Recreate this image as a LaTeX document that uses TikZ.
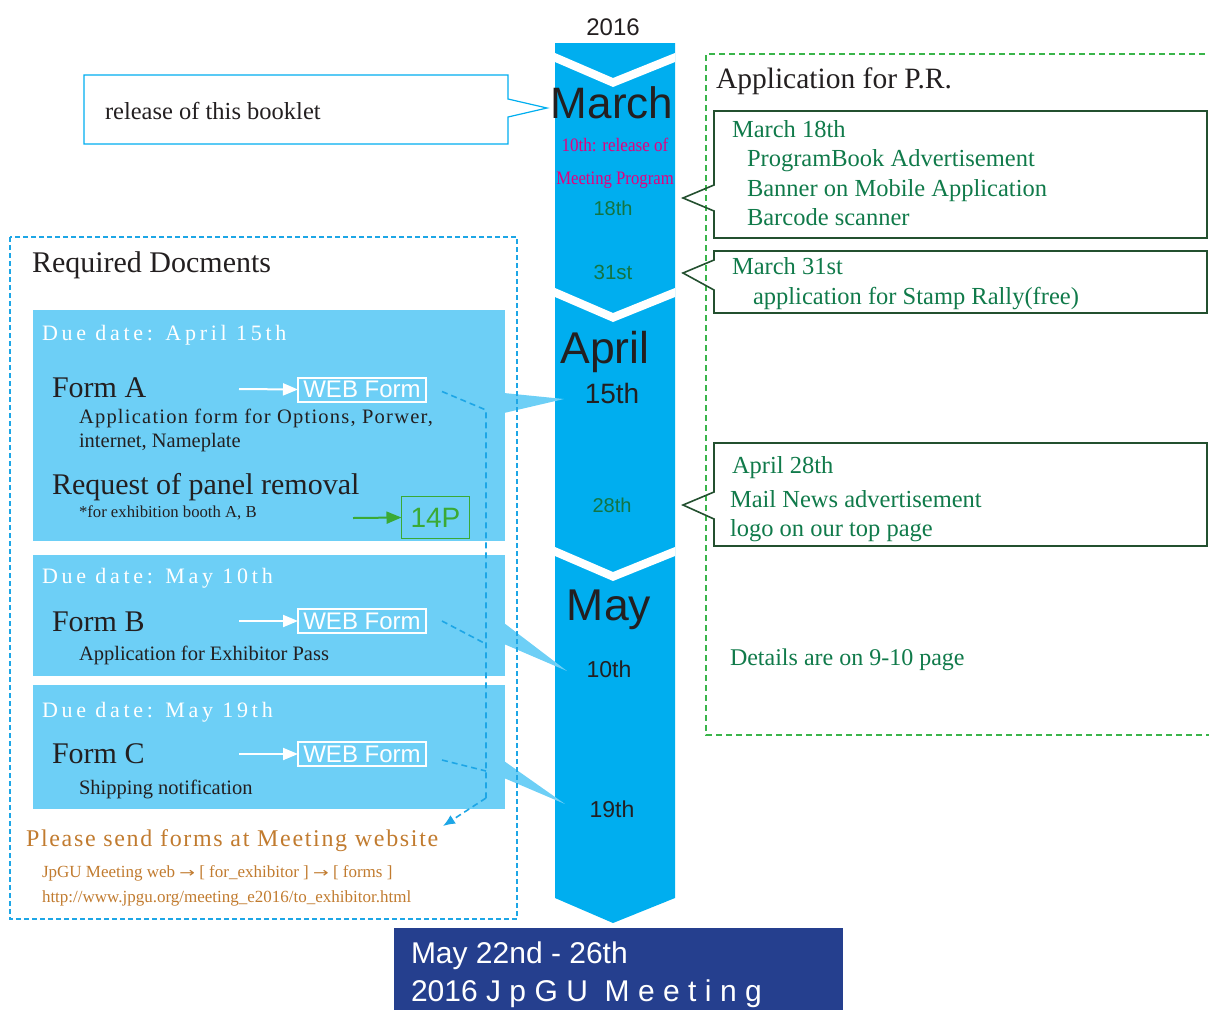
\documentclass[tikz,border=0pt]{standalone}
\usepackage{fontspec}
\setmainfont{Liberation Serif}
\setsansfont{Liberation Sans}
\newfontfamily\arrowfont{DejaVu Sans}
\usetikzlibrary{arrows.meta}
\definecolor{band}{HTML}{00AEEF}
\definecolor{panel}{HTML}{6DCFF6}
\definecolor{dashblue}{HTML}{1DA6E6}
\definecolor{dashgreen}{HTML}{39B54A}
\definecolor{boxgreen}{HTML}{23502F}
\definecolor{txtgreen}{HTML}{107A4A}
\definecolor{tlgreen}{HTML}{137443}
\definecolor{okgreen}{HTML}{3AAA35}
\definecolor{magent}{HTML}{E4007F}
\definecolor{orng}{HTML}{C17B2F}
\definecolor{navy}{HTML}{253F8E}
\definecolor{ink}{HTML}{231F20}
\newcommand\fsz[1]{\fontsize{#1}{#1}\selectfont}
\newcommand\rarr{{\arrowfont\scalebox{1.1}[0.8]{→}}}
\begin{document}
\begin{tikzpicture}[x=1pt,y=-1pt,inner sep=0pt,outer sep=0pt,
  txt/.style={anchor=base west,text=ink},
  tl/.style={anchor=base,font=\sffamily},
  gtxt/.style={anchor=base west,text=txtgreen,font=\fsz{24.5}},
  desc/.style={anchor=base west,text=ink,font=\fsz{20.5}},
  due/.style={anchor=base west,text=white,font=\fsz{22}\addfontfeature{LetterSpace=17}},
  formname/.style={anchor=base west,text=ink,font=\fsz{30}},
  webform/.style={draw=white,line width=2pt,text=white,font=\sffamily\fsz{24},minimum width=128pt,minimum height=24pt},
  whitearrow/.style={draw=white,line width=2pt,-{Triangle[length=15pt,width=12pt]}},
  conn/.style={draw=dashblue,line width=1.6pt,dash pattern=on 6pt off 4pt},
  callout/.style={draw=boxgreen,line width=1.6pt,line join=miter}]
\useasboundingbox (0,0) rectangle (1209,1010);

% timeline band
\fill[band] (555,43) -- (675,43) -- (675,898) -- (613,923) -- (555,898) -- cycle;
\foreach \a/\b in {53/78,288/313,547/572}{
  \fill[white] (555,\a) -- (613,\b) -- (675,\a) -- (675,\a+9) -- (613,\b+9) -- (555,\a+9) -- cycle;}

% panels
\fill[panel] (33,310) rectangle (505,541);
\fill[panel] (33,555) rectangle (505,676);
\fill[panel] (33,685) rectangle (505,809);
\fill[panel] (504,393) -- (564,399) -- (504,413) -- cycle;
\fill[panel] (504,623) -- (567,671) -- (504,644) -- cycle;
\fill[panel] (504,761) -- (565,804) -- (504,778) -- cycle;

% left dashed frame
\draw[draw=dashblue,line width=1.5pt,dash pattern=on 5pt off 3pt] (10,237) rectangle (517,919);

% release callout
\draw[draw=band,line width=1.2pt] (84,75) -- (508,75) -- (508,99) -- (547,108) -- (508,117) -- (508,144) -- (84,144) -- cycle;
\node[txt,font=\fsz{24.5}] (rel) at (105,119) {release of this booklet};

% right dashed frame
\draw[draw=dashgreen,line width=1.5pt,dash pattern=on 6pt off 4pt] (1215,54) -- (706,54) -- (706,735) -- (1215,735);
\node[txt,font=\fsz{29.5}] (apppr) at (716,88) {Application for P.R.};

% right callouts
\draw[callout] (714,111) -- (1207,111) -- (1207,238) -- (714,238) -- (714,211) -- (683,198) -- (714,185) -- cycle;
\draw[callout] (714,251) -- (1207,251) -- (1207,313) -- (714,313) -- (714,290) -- (683,273) -- (714,260) -- cycle;
\draw[callout] (714,443) -- (1207,443) -- (1207,546) -- (714,546) -- (714,519) -- (683,505) -- (714,492) -- cycle;
\node[gtxt] (m18) at (732,137) {March 18th};
\node[gtxt] (pb) at (747,166) {ProgramBook Advertisement};
\node[gtxt] (bn) at (747,196) {Banner on Mobile Application};
\node[gtxt] (bc) at (747,225) {Barcode scanner};
\node[gtxt] (m31) at (732,274) {March 31st};
\node[gtxt] (sr) at (753,304) {application for Stamp Rally(free)};
\node[gtxt] (a28) at (732,473) {April 28th};
\node[gtxt] (mn) at (730,507) {Mail News advertisement};
\node[gtxt] (logo) at (730,536) {logo on our top page};
\node[gtxt,font=\fsz{24}] (det) at (730,665) {Details are on 9-10 page};

% timeline texts
\node[tl,text=ink,font=\sffamily\fsz{24}] (y2016) at (613,35) {2016};
\node[tl,text=ink,font=\sffamily\fsz{44}] (march) at (612,118) {March};
\node[tl,text=magent,font=\rmfamily\fsz{19}] (rel1) at (615,151) {\scalebox{0.9}[1]{10th: release of}};
\node[tl,text=magent,font=\rmfamily\fsz{19}] (rel2) at (615,184) {\scalebox{0.88}[1]{Meeting Program}};
\node[tl,text=tlgreen,font=\sffamily\fsz{20}] (d18) at (613,215) {18th};
\node[tl,text=tlgreen,font=\sffamily\fsz{20.5}] (d31) at (613,279) {31st};
\node[tl,text=ink,font=\sffamily\fsz{44.5}] (april) at (605,363) {April};
\node[tl,text=ink,font=\sffamily\fsz{28}] (d15) at (612,403) {15th};
\node[tl,text=tlgreen,font=\sffamily\fsz{20}] (d28) at (612,512) {28th};
\node[tl,text=ink,font=\sffamily\fsz{44.5}] (may) at (609,620) {May};
\node[tl,text=ink,font=\sffamily\fsz{23}] (d10) at (609,677) {10th};
\node[tl,text=ink,font=\sffamily\fsz{23}] (d19) at (612,817) {19th};

% required documents
\node[txt,font=\fsz{30}] (req) at (32,272) {Required Docments};

\node[due] (dueA) at (42,340) {Due date: April 15th};
\node[formname] (formA) at (52,397) {Form A};
\node[desc,font=\fsz{20.5}\addfontfeature{LetterSpace=6}] (descA1) at (79,423) {Application form for Options, Porwer,};
\node[desc] (descA2) at (79,447) {internet, Nameplate};
\node[formname] (panel) at (52,494) {Request of panel removal};
\node[desc,font=\fsz{16.7}] (booth) at (79,517) {*for exhibition booth A, B};
\node[webform] (webA) at (362,389.5) {WEB Form};
\coordinate (arA) at (239,389);
\draw[whitearrow] (arA) -- (webA.west);
\node[draw=okgreen,line width=1.5pt,text=okgreen,font=\sffamily\fsz{28},minimum width=68pt,minimum height=42pt] (p14) at (435.5,517.5) {14P};
\coordinate (arP) at (353,518);
\draw[draw=okgreen,line width=2pt,-{Triangle[length=15pt,width=12pt]}] (arP) -- (p14.west);

\node[due] (dueB) at (42,583) {Due date: May 10th};
\node[formname] (formB) at (52,631) {Form B};
\node[desc] (descB) at (79,660) {Application for Exhibitor Pass};
\node[webform] (webB) at (362,621) {WEB Form};
\coordinate (arB) at (239,621);
\draw[whitearrow] (arB) -- (webB.west);

\node[due] (dueC) at (42,717) {Due date: May 19th};
\node[formname] (formC) at (52,763) {Form C};
\node[desc] (descC) at (79,794) {Shipping notification};
\node[webform] (webC) at (362,754) {WEB Form};
\coordinate (arC) at (239,754);
\draw[whitearrow] (arC) -- (webC.west);

% send forms text
\node[anchor=base west,text=orng,font=\fsz{24}\addfontfeature{LetterSpace=7}] (send) at (26,846) {Please send forms at Meeting website};
\node[anchor=base west,text=orng,font=\fsz{17}] (path) at (42,877) {JpGU Meeting web \rarr{} [ for\_exhibitor ] \rarr{} [ forms ]};
\node[anchor=base west,text=orng,font=\fsz{17}] (url) at (42,902) {http://www.jpgu.org/meeting\_e2016/to\_exhibitor.html};

% dashed connectors
\coordinate (jA) at (486,410);
\coordinate (jB) at (486,644);
\coordinate (jC) at (486,771);
\coordinate (jEnd) at (486,798);
\coordinate (tip) at (443,826);
\draw[conn] ([xshift=16pt,yshift=-2pt]webA.east) -- (jA) -- (jEnd);
\draw[conn] ([xshift=16pt]webB.east) -- (jB);
\draw[conn] ([xshift=16pt,yshift=-6pt]webC.east) -- (jC);
\draw[conn,-{Latex[length=12pt,width=10pt]}] (jEnd) -- (tip);

% meeting box
\fill[navy] (394,928) rectangle (843,1010);
\node[anchor=base west,text=white,font=\sffamily\fsz{30}] (mdate) at (411,963) {May 22nd - 26th};
\node[anchor=base west,text=white,font=\sffamily\fsz{30}] (mname) at (411,1001) {2016 {\addfontfeature{LetterSpace=28}JpGU Meeting}};
\end{tikzpicture}
\end{document}
